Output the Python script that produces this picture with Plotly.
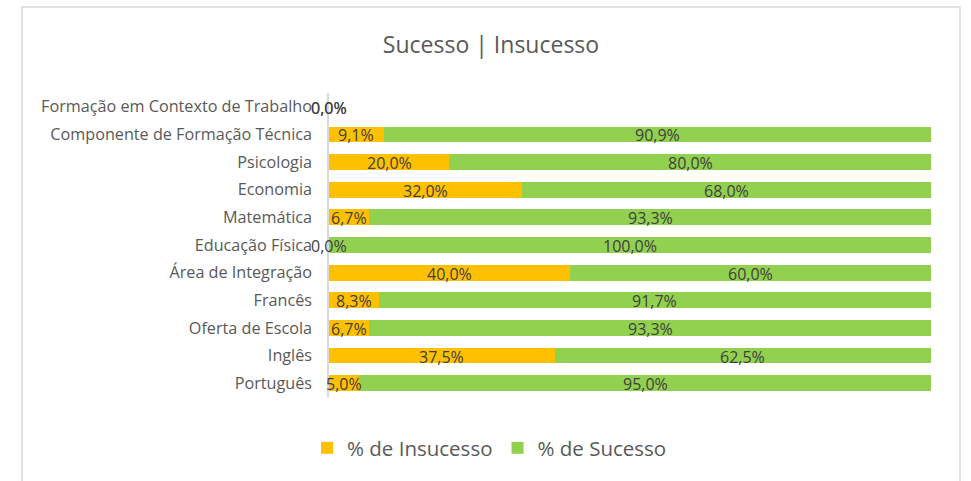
import plotly.graph_objects as go

# Disciplines, bottom to top as they appear on the axis
categories = [
    "Português",
    "Inglês",
    "Oferta de Escola",
    "Francês",
    "Área de Integração",
    "Educação Física",
    "Matemática",
    "Economia",
    "Psicologia",
    "Componente de Formação Técnica",
    "Formação em Contexto de Trabalho",
]
insucesso = [5.0, 37.5, 6.7, 8.3, 40.0, 0.0, 6.7, 32.0, 20.0, 9.1, 0.0]
sucesso = [95.0, 62.5, 93.3, 91.7, 60.0, 100.0, 93.3, 68.0, 80.0, 90.9, 0.0]

ORANGE = "#FFC000"
GREEN = "#92D050"
TEXT = "#595959"
LABEL = "#404040"
FONT = "Open Sans, sans-serif"

W, H = 971, 481


def fmt(v):
    return f"{v:.1f}%".replace(".", ",")


fig = go.Figure()
fig.add_trace(go.Bar(
    y=categories, x=insucesso, orientation="h", name="% de Insucesso",
    marker=dict(color=ORANGE, line=dict(width=0)), hoverinfo="skip",
))
fig.add_trace(go.Bar(
    y=categories, x=sucesso, orientation="h", name="% de Sucesso",
    marker=dict(color=GREEN, line=dict(width=0)), hoverinfo="skip",
))

# Value labels centred on each segment (zero-width segments sit on the axis)
for cat, ins, suc in zip(categories, insucesso, sucesso):
    for centre, val in ((ins / 2, ins), (ins + suc / 2, suc)):
        fig.add_annotation(
            x=centre, y=cat, text=fmt(val), showarrow=False,
            xanchor="center", yanchor="middle", yshift=-1,
            font=dict(family=FONT, size=16, color=LABEL),
        )

# Chart frame
fig.add_shape(
    type="rect", xref="paper", yref="paper",
    x0=(22 - 329) / 602, x1=(960 - 329) / 602,
    y0=-(481 - 397 + 5) / 304, y1=(397 - 7) / 304,
    line=dict(color="#D9D9D9", width=1.5), fillcolor="rgba(0,0,0,0)",
    layer="below",
)

fig.update_layout(
    width=W, height=H,
    margin=dict(l=329, r=40, t=93, b=84),
    paper_bgcolor="white", plot_bgcolor="white",
    barmode="stack", bargap=0.43,
    font=dict(family=FONT, color=TEXT),
    title=dict(
        text="Sucesso | Insucesso", xref="container", yref="container",
        x=491 / W, y=1 - 45 / H, xanchor="center", yanchor="middle",
        font=dict(size=23, color=TEXT, family=FONT),
    ),
    xaxis=dict(range=[0, 100], visible=False, fixedrange=True),
    yaxis=dict(
        categoryorder="array", categoryarray=categories,
        showline=True, linecolor="#D9D9D9", linewidth=1.5,
        showgrid=False, ticks="", ticklabelstandoff=12,
        tickfont=dict(size=16.2, color=TEXT, family=FONT),
        range=[-0.5, 10.5], fixedrange=True,
    ),
    legend=dict(
        orientation="h", xref="container", yref="container",
        x=307 / W, y=1 - 448 / H, xanchor="left", yanchor="middle",
        font=dict(size=20.5, color=TEXT, family=FONT),
        traceorder="normal", itemwidth=30, tracegroupgap=0,
    ),
    showlegend=True,
)

fig.write_html("out.html")
